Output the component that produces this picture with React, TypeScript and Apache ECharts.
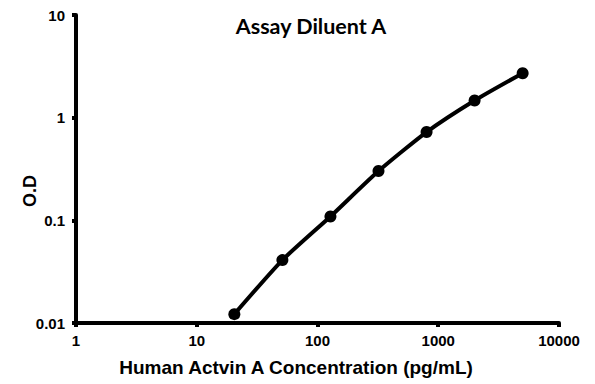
import React, { useEffect, useRef } from "react";
import * as echarts from "echarts";

const concentrations = [20.48, 51.2, 128, 320, 800, 2000, 5000];
const odValues = [0.0122, 0.041, 0.109, 0.302, 0.724, 1.47, 2.71];
const titleText = "Assay Diluent A";
const xName = "Human Actvin A Concentration (pg/mL)";
const yName = "O.D";

const labelFont = "Arial, 'Liberation Sans', sans-serif";

export default function App() {
  const ref = useRef<HTMLDivElement>(null);
  useEffect(() => {
    if (!ref.current) return;
    const chart = echarts.init(ref.current, null, { renderer: "svg" });
    const axisLine = { show: true, lineStyle: { color: "#000000", width: 4, opacity: 1 } };
    const axisTick = { show: true, inside: false, length: 4, lineStyle: { color: "#000000", width: 4 } };
    const axisLabel = {
      color: "#000",
      fontFamily: labelFont,
      fontWeight: "bold",
      fontSize: 15,
      formatter: (v: number) => String(v),
    };
    chart.setOption({
      animation: false,
      backgroundColor: "#fff",
      title: {
        text: titleText,
        left: 306,
        top: 10,
        textAlign: "center",
        textStyle: { fontFamily: "Lato", fontWeight: "bold", fontSize: 21.5, color: "#000" },
      },
      graphic: [
        {
          type: "text",
          x: 30,
          y: 191,
          rotation: Math.PI / 2,
          style: {
            text: yName,
            fontFamily: labelFont,
            fontWeight: "bold",
            fontSize: 18,
            fill: "#000",
            align: "center",
            verticalAlign: "middle",
          },
        },
        {
          type: "text",
          x: 296,
          y: 367,
          style: {
            text: xName,
            fontFamily: labelFont,
            fontWeight: "bold",
            fontSize: 19,
            fill: "#000",
            align: "center",
            verticalAlign: "middle",
          },
        },
      ],
      grid: { left: 76, right: 36, top: 15, bottom: 61 },
      xAxis: {
        type: "log",
        logBase: 10,
        min: 1,
        max: 10000,
        axisLine,
        axisTick,
        splitLine: { show: false },
        minorTick: { show: false },
        axisLabel: { ...axisLabel, margin: 10 },
      },
      yAxis: {
        type: "log",
        logBase: 10,
        min: 0.01,
        max: 10,
        axisLine,
        axisTick,
        splitLine: { show: false },
        minorTick: { show: false },
        axisLabel: { ...axisLabel, margin: 11 },
      },
      series: [
        {
          type: "line",
          data: concentrations.map((c, i) => [c, odValues[i]]),
          smooth: 0.2,
          symbol: "circle",
          symbolSize: 12,
          lineStyle: { color: "#000", width: 4 },
          itemStyle: { color: "#000" },
        },
      ],
    });
    return () => chart.dispose();
  }, []);
  return <div ref={ref} style={{ width: 595, height: 384, position: "absolute", left: 0, top: 0 }} />;
}
